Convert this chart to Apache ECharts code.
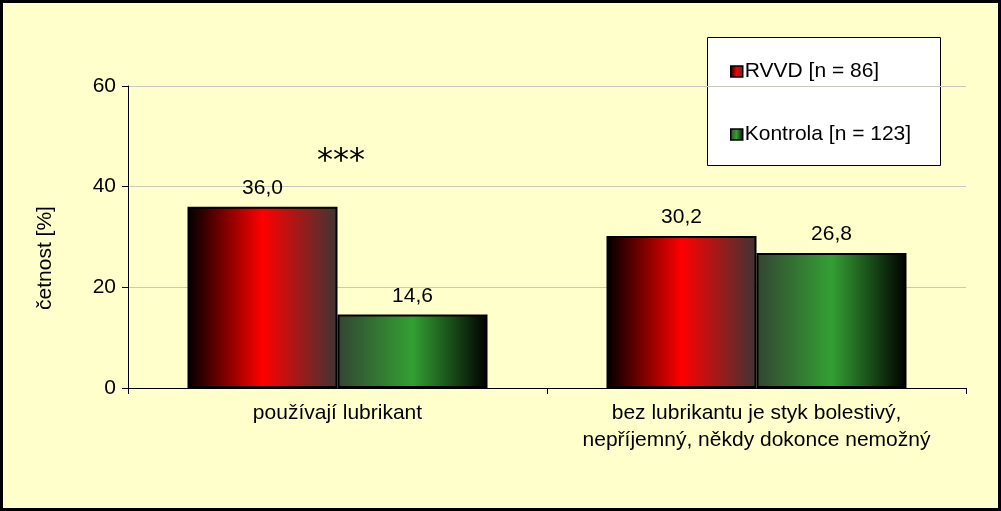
<!DOCTYPE html>
<html><head><meta charset="utf-8">
<script src="https://cdn.jsdelivr.net/npm/echarts@6/dist/echarts.min.js"></script>
<style>html,body{margin:0;padding:0;background:#FFFFCC;}#c{width:1001px;height:511px;}</style>
</head><body><div id="c"></div>
<script>
const categories = ['používají lubrikant', 'bez lubrikantu je styk bolestivý,\nnepříjemný, někdy dokonce nemožný'];
const seriesNames = ['RVVD [n = 86]', 'Kontrola [n = 123]'];
const rvvdValues = [36.0, 30.2];
const kontrolaValues = [14.6, 26.8];
const yTicks = [0, 20, 40, 60];
const significance = '***';

const FONT = '"Liberation Sans", Arial, sans-serif';
const fmt = v => v.toFixed(1).replace('.', ',');

const redGrad = new echarts.graphic.LinearGradient(0, 0, 1, 0, [
  {offset: 0, color: '#000000'}, {offset: 0.5, color: '#FF0000'}, {offset: 1, color: '#3f3434'}]);
const greenGrad = new echarts.graphic.LinearGradient(0, 0, 1, 0, [
  {offset: 0, color: '#344434'}, {offset: 0.5, color: '#33a033'}, {offset: 1, color: '#000000'}]);

const chart = echarts.init(document.getElementById('c'), null, {renderer: 'canvas'});
chart.setOption({
  backgroundColor: '#FFFFCC',
  animation: false,
  textStyle: {fontFamily: FONT},
  grid: {left: 128, right: 35, top: 86, bottom: 123, containLabel: false},
  legend: {
    orient: 'vertical', left: 730, top: 61, padding: 0, itemGap: 42,
    itemWidth: 12, itemHeight: 11, icon: 'rect',
    textStyle: {fontSize: 21, color: '#000', fontFamily: FONT, padding: [0, 0, 0, -3]},
    itemStyle: {borderColor: '#000', borderWidth: 1.5},
    data: seriesNames
  },
  xAxis: {
    type: 'category', data: categories,
    axisLine: {lineStyle: {color: '#000', width: 1}},
    axisTick: {show: true, length: 6, lineStyle: {color: '#000'}},
    axisLabel: {interval: 0, fontSize: 21, color: '#000', margin: 12, lineHeight: 27, fontFamily: FONT}
  },
  yAxis: {
    type: 'value', min: yTicks[0], max: yTicks[yTicks.length - 1], interval: 20,
    axisLine: {show: true, lineStyle: {color: '#000', width: 1}},
    axisTick: {show: true, length: 6, lineStyle: {color: '#000'}},
    axisLabel: {fontSize: 21, color: '#000', margin: 12, fontFamily: FONT},
    splitLine: {show: true, lineStyle: {color: '#c8c8c0', width: 1}}
  },
  series: [
    {name: seriesNames[0], type: 'bar', data: rvvdValues, barGap: '0%', barCategoryGap: '28.4%',
     itemStyle: {color: redGrad, borderColor: '#000', borderWidth: 2},
     label: {show: true, position: 'top', distance: 8, fontSize: 21, color: '#000', fontFamily: FONT, formatter: p => fmt(p.value)}},
    {name: seriesNames[1], type: 'bar', data: kontrolaValues, barGap: '0%', barCategoryGap: '28.4%',
     itemStyle: {color: greenGrad, borderColor: '#000', borderWidth: 2},
     label: {show: true, position: 'top', distance: 8, fontSize: 21, color: '#000', fontFamily: FONT, formatter: p => fmt(p.value)}}
  ],
  graphic: [
    {type: 'rect', z: -10, silent: true, shape: {x: 1.5, y: 1.5, width: 998, height: 508},
     style: {fill: null, stroke: '#000', lineWidth: 3}},
    {type: 'rect', z: 0, silent: true, shape: {x: 707.5, y: 37.5, width: 233, height: 128},
     style: {fill: '#FFFFFF', stroke: '#000', lineWidth: 1}},
    {type: 'text', z: 10, silent: true, x: 45, y: 258, rotation: Math.PI / 2,
     style: {text: 'četnost [%]', font: '21px ' + FONT, fill: '#000', textAlign: 'center', textVerticalAlign: 'middle'}},
    {type: 'text', z: 10, silent: true, x: 341, y: 146,
     style: {text: significance, font: '32px "DejaVu Sans", sans-serif', fill: '#000', textAlign: 'center', textVerticalAlign: 'top'}}
  ]
});
</script></body></html>
